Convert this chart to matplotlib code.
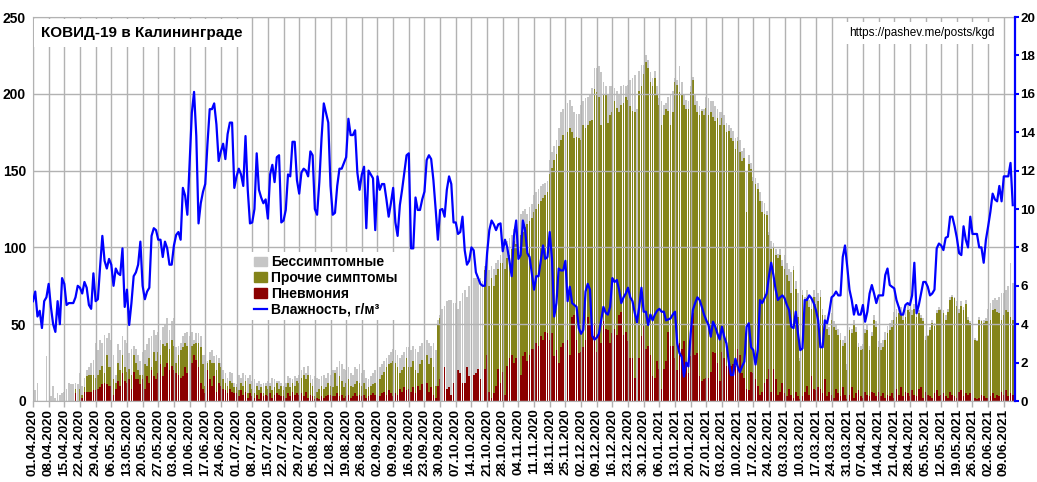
# -*- coding: utf-8 -*-
"""
КОВИД-19 в Калининграде: ежедневные случаи (стек) и абсолютная влажность.
"""
import numpy as np
import pandas as pd
import matplotlib
matplotlib.use("Agg")
import matplotlib.pyplot as plt
from matplotlib.patches import Patch
from matplotlib.lines import Line2D

plt.rcParams["font.family"] = ["Liberation Sans", "DejaVu Sans"]
plt.rcParams["font.weight"] = "bold"

START = "2020-04-01"

# Пневмония, по дням начиная с 01.04.2020 (две недели на строку)
pneumonia = [
    0, 0, 0, 0, 0, 0, 0, 0, 0, 0, 0, 0, 0, 0,
    0, 0, 0, 0, 0, 5, 0, 0, 2, 6, 6, 6, 6, 7,
    7, 8, 9, 11, 12, 11, 10, 10, 4, 8, 13, 10, 18, 13,
    12, 14, 8, 19, 14, 14, 11, 14, 8, 16, 12, 20, 16, 14,
    18, 24, 16, 22, 25, 20, 23, 20, 18, 17, 15, 16, 22, 18,
    0, 25, 30, 27, 22, 12, 8, 5, 20, 14, 10, 16, 6, 12,
    10, 8, 7, 5, 8, 6, 5, 5, 3, 7, 4, 6, 2, 5,
    3, 2, 4, 1, 5, 3, 4, 3, 5, 2, 4, 5, 4, 3,
    3, 2, 5, 3, 6, 4, 5, 4, 5, 3, 6, 2, 4, 3,
    1, 2, 1, 3, 2, 3, 4, 4, 3, 3, 5, 3, 4, 2,
    3, 4, 2, 3, 5, 3, 4, 3, 4, 2, 3, 4, 5, 4,
    4, 3, 5, 6, 4, 7, 5, 3, 5, 4, 8, 6, 9, 7,
    8, 6, 9, 5, 10, 7, 11, 7, 12, 6, 9, 4, 2, 10,
    14, 0, 22, 8, 9, 4, 12, 0, 20, 18, 12, 12, 22, 16,
    28, 17, 18, 21, 14, 0, 21, 30, 6, 2, 5, 10, 21, 12,
    19, 4, 23, 28, 30, 25, 28, 26, 17, 29, 32, 26, 30, 34,
    34, 38, 36, 42, 40, 45, 44, 40, 44, 29, 33, 25, 35, 38,
    25, 40, 30, 55, 56, 40, 31, 32, 35, 40, 55, 50, 44, 51,
    32, 45, 38, 52, 47, 46, 38, 44, 47, 43, 56, 58, 43, 45,
    39, 28, 28, 15, 0, 28, 42, 49, 34, 36, 30, 16, 15, 26,
    21, 8, 21, 26, 45, 36, 36, 28, 20, 38, 34, 39, 23, 18,
    29, 57, 30, 31, 16, 13, 14, 15, 15, 19, 32, 31, 25, 13,
    32, 28, 23, 25, 23, 24, 23, 34, 30, 18, 15, 8, 7, 19,
    18, 14, 10, 4, 6, 12, 14, 21, 6, 21, 14, 4, 6, 12,
    5, 3, 8, 4, 2, 6, 3, 1, 3, 6, 10, 4, 16, 8,
    7, 9, 8, 5, 14, 3, 6, 4, 2, 8, 5, 3, 9, 4,
    1, 4, 9, 2, 5, 7, 3, 2, 6, 4, 3, 6, 5, 3,
    6, 3, 5, 2, 4, 3, 5, 2, 8, 4, 9, 3, 6, 5,
    3, 7, 4, 3, 8, 9, 2, 6, 4, 3, 2, 5, 7, 3,
    4, 5, 3, 2, 6, 4, 3, 2, 6, 7, 3, 5, 4, 5,
    3, 2, 1, 2, 4, 3, 2, 2, 3, 5, 2, 4, 3, 6,
    4, 7, 3, 5, 4,
]

# Прочие симптомы
other = [
    0, 0, 0, 0, 0, 0, 0, 0, 0, 0, 0, 0, 0, 0,
    0, 0, 0, 0, 0, 3, 0, 8, 2, 3, 10, 11, 11, 10,
    8, 9, 11, 12, 6, 19, 12, 12, 10, 4, 12, 10, 12, 9,
    7, 7, 9, 11, 11, 6, 6, 3, 16, 7, 16, 2, 16, 12,
    14, 6, 21, 14, 13, 14, 17, 16, 7, 13, 18, 19, 16, 18,
    0, 11, 7, 11, 16, 23, 16, 5, 5, 13, 15, 9, 14, 13,
    12, 6, 5, 5, 5, 6, 4, 4, 4, 5, 6, 7, 3, 6,
    5, 3, 6, 6, 4, 2, 6, 5, 5, 5, 5, 7, 4, 7,
    4, 7, 7, 6, 6, 6, 8, 8, 10, 14, 8, 15, 8, 7,
    2, 4, 7, 7, 6, 6, 8, 6, 6, 15, 5, 13, 9, 7,
    9, 10, 8, 6, 6, 10, 8, 7, 8, 6, 6, 6, 6, 8,
    9, 11, 12, 13, 18, 17, 20, 23, 20, 18, 10, 14, 13, 21,
    14, 16, 17, 15, 8, 17, 16, 18, 18, 18, 19, 18, 8, 40,
    40, 0, 0, 0, 0, 0, 0, 0, 0, 0, 0, 0, 0, 0,
    0, 0, 0, 0, 0, 0, 64, 58, 69, 78, 70, 72, 65, 78,
    71, 82, 70, 67, 69, 79, 74, 80, 91, 81, 81, 89, 87, 85,
    89, 87, 92, 88, 92, 89, 92, 108, 108, 128, 128, 141, 135, 135,
    147, 135, 148, 120, 115, 132, 140, 138, 145, 138, 125, 132, 139, 152,
    169, 153, 142, 148, 152, 135, 148, 144, 148, 148, 132, 135, 151, 153,
    157, 164, 161, 173, 0, 174, 163, 164, 187, 181, 178, 189, 195, 173,
    172, 172, 165, 164, 144, 144, 152, 180, 186, 163, 165, 154, 167, 172,
    172, 152, 163, 157, 170, 176, 172, 176, 171, 169, 153, 151, 159, 167,
    152, 152, 152, 151, 148, 145, 141, 135, 132, 138, 143, 115, 147, 132,
    125, 127, 128, 126, 117, 110, 107, 87, 93, 79, 81, 89, 89, 76,
    81, 79, 70, 66, 83, 67, 52, 25, 66, 59, 57, 57, 44, 60,
    56, 56, 60, 51, 38, 44, 37, 49, 46, 38, 38, 37, 27, 34,
    19, 42, 35, 48, 40, 28, 30, 32, 38, 42, 30, 36, 48, 45,
    29, 30, 30, 38, 40, 43, 43, 51, 47, 53, 47, 50, 49, 54,
    55, 49, 56, 52, 49, 45, 50, 34, 38, 43, 49, 44, 50, 56,
    55, 52, 50, 56, 60, 64, 64, 60, 51, 55, 56, 58, 49, 46,
    47, 38, 38, 51, 48, 48, 50, 50, 50, 54, 58, 54, 54, 47,
    52, 52, 55, 50, 49,
]

# Бессимптомные
asymptomatic = [
    0, 7, 12, 0, 0, 0, 29, 0, 3, 10, 2, 5, 4, 5,
    6, 8, 12, 11, 11, 4, 11, 10, 6, 6, 4, 5, 8, 10,
    23, 16, 20, 15, 25, 11, 22, 18, 16, 5, 12, 13, 12, 18,
    19, 10, 17, 6, 9, 10, 9, 15, 9, 14, 13, 20, 14, 17,
    13, 10, 11, 14, 16, 12, 12, 18, 10, 6, 5, 7, 6, 9,
    42, 9, 3, 6, 6, 7, 6, 20, 1, 5, 8, 4, 10, 3,
    3, 6, 6, 5, 6, 6, 3, 2, 10, 3, 8, 4, 10, 6,
    5, 9, 2, 6, 2, 7, 2, 5, 2, 8, 5, 1, 5, 2,
    3, 3, 4, 6, 2, 6, 2, 5, 5, 5, 4, 6, 5, 4,
    13, 9, 6, 6, 9, 6, 6, 7, 11, 2, 12, 10, 11, 12,
    8, 8, 8, 8, 11, 8, 12, 8, 8, 7, 5, 6, 7, 8,
    7, 8, 7, 7, 6, 6, 7, 8, 8, 8, 10, 10, 10, 7,
    13, 11, 10, 14, 14, 12, 11, 12, 10, 14, 8, 16, 23, 3,
    2, 60, 40, 57, 57, 62, 52, 64, 40, 47, 58, 60, 46, 59,
    50, 63, 62, 58, 66, 78, 3, 4, 10, 8, 11, 8, 6, 5,
    9, 14, 11, 11, 9, 8, 8, 12, 14, 14, 12, 7, 9, 9,
    11, 11, 10, 10, 9, 8, 7, 9, 10, 9, 9, 12, 18, 17,
    18, 19, 18, 17, 17, 15, 16, 23, 15, 19, 18, 18, 21, 14,
    16, 20, 34, 8, 6, 19, 19, 17, 9, 11, 11, 12, 12, 7,
    10, 17, 21, 24, 190, 13, 14, 6, 4, 5, 6, 5, 5, 6,
    4, 15, 7, 4, 9, 20, 14, 2, 3, 17, 9, 7, 6, 5,
    4, 2, 7, 7, 6, 1, 4, 7, 11, 7, 10, 10, 6, 8,
    4, 6, 6, 4, 7, 7, 7, 3, 8, 7, 7, 26, 6, 4,
    3, 4, 4, 6, 7, 7, 3, 2, 5, 3, 4, 3, 4, 4,
    9, 8, 8, 14, 3, 5, 15, 2, 3, 3, 5, 5, 8, 4,
    5, 5, 4, 4, 4, 5, 5, 4, 4, 4, 4, 4, 4, 4,
    4, 2, 3, 3, 3, 3, 3, 3, 3, 4, 3, 3, 3, 4,
    4, 5, 5, 5, 5, 5, 5, 5, 5, 5, 5, 5, 5, 4,
    2, 3, 3, 3, 2, 2, 2, 2, 1, 2, 2, 2, 2, 2,
    1, 2, 3, 2, 2, 1, 1, 3, 3, 3, 2, 3, 2, 1,
    1, 1, 1, 2, 1, 2, 2, 8, 11, 7, 7, 8, 11, 17,
    14, 13, 17, 35, 24,
]

# Абсолютная влажность, г/м³ (правая ось)
humidity = [
    5.2, 5.7, 4.4, 4.7, 3.8, 5.2, 5.4, 6.1, 4.9, 4.0, 3.6, 5.2, 4.0, 6.4,
    6.1, 5.0, 5.1, 5.1, 5.1, 5.4, 6.0, 5.9, 5.6, 6.2, 5.9, 5.0, 4.8, 6.65,
    5.2, 5.3, 7.0, 8.6, 7.3, 6.9, 7.4, 7.1, 6.0, 6.9, 6.65, 6.56, 7.95, 4.9,
    5.8, 3.96, 5.1, 6.5, 6.7, 7.1, 8.3, 6.0, 5.3, 5.7, 5.9, 8.6, 9.0, 8.9,
    8.4, 8.4, 7.5, 8.3, 7.95, 7.1, 7.1, 8.1, 8.65, 8.8, 8.4, 11.1, 10.7, 9.7,
    12.3, 15.0, 16.1, 13.8, 9.25, 10.3, 10.9, 11.3, 13.4, 15.2, 15.2, 15.5, 14.4, 12.5,
    13.0, 13.4, 12.6, 13.9, 14.5, 14.5, 11.1, 11.7, 12.1, 11.8, 11.2, 13.8, 11.0, 9.25,
    9.3, 10.0, 12.9, 11.0, 10.6, 10.3, 10.5, 9.5, 11.8, 12.3, 11.4, 12.7, 12.8, 9.3,
    9.4, 9.95, 11.8, 11.7, 13.5, 13.5, 11.5, 10.8, 11.9, 12.1, 12.0, 11.7, 13.0, 12.8,
    10.0, 9.7, 11.4, 13.7, 15.5, 15.0, 14.5, 11.2, 9.7, 9.8, 11.2, 12.1, 12.1, 12.4,
    12.7, 14.7, 13.85, 13.85, 14.1, 11.9, 11.0, 11.8, 12.2, 9.0, 12.0, 11.8, 11.6, 8.9,
    11.7, 11.0, 11.3, 11.3, 10.5, 9.6, 10.3, 11.1, 9.3, 8.6, 10.2, 11.0, 11.9, 12.8,
    12.9, 7.95, 7.95, 10.6, 9.95, 9.95, 10.5, 10.9, 12.55, 12.8, 12.6, 11.5, 10.0, 8.4,
    9.95, 10.0, 9.6, 11.0, 11.7, 11.3, 9.3, 9.3, 8.7, 8.8, 9.6, 7.85, 7.1, 7.3,
    8.0, 7.85, 6.7, 6.4, 6.1, 6.0, 6.0, 7.7, 8.9, 9.4, 9.2, 8.9, 9.2, 9.25,
    7.8, 8.4, 8.0, 7.3, 6.5, 8.6, 9.4, 7.4, 7.6, 9.4, 8.9, 7.7, 7.5, 6.65,
    5.8, 6.5, 6.5, 7.3, 8.1, 7.4, 7.5, 8.8, 7.4, 4.4, 5.1, 6.9, 6.8, 6.8,
    7.3, 5.2, 5.95, 5.1, 5.0, 4.9, 3.8, 3.5, 3.7, 5.7, 6.1, 5.8, 3.4, 3.2,
    3.3, 3.5, 4.2, 4.9, 4.6, 4.5, 4.9, 6.4, 6.2, 6.3, 5.8, 5.1, 5.4, 5.6,
    5.9, 5.4, 5.2, 4.6, 4.1, 4.9, 5.9, 4.65, 4.65, 3.96, 4.5, 4.2, 4.5, 4.7,
    4.8, 4.65, 4.65, 4.2, 4.25, 4.3, 4.5, 4.65, 3.0, 2.5, 2.3, 1.27, 2.0, 1.8,
    3.5, 4.74, 5.1, 5.4, 5.26, 4.9, 4.5, 4.2, 3.96, 3.35, 4.13, 3.87, 3.5, 3.2,
    3.87, 3.35, 3.0, 2.1, 1.35, 1.35, 2.2, 1.8, 1.5, 1.8, 2.05, 3.87, 4.05, 2.8,
    2.65, 1.9, 2.65, 5.26, 5.1, 5.35, 5.6, 6.5, 7.2, 6.56, 5.8, 5.26, 5.4, 5.5,
    5.35, 5.0, 4.74, 3.87, 3.8, 4.65, 3.5, 2.65, 2.74, 5.26, 5.26, 5.5, 5.35, 5.1,
    4.74, 4.2, 2.8, 2.8, 4.2, 4.05, 4.65, 5.4, 5.5, 5.7, 5.5, 5.5, 7.5, 8.1,
    7.0, 5.8, 5.26, 4.5, 5.0, 4.5, 4.5, 5.0, 4.13, 4.65, 5.6, 6.04, 5.6, 5.1,
    5.5, 5.5, 5.5, 6.56, 6.9, 6.04, 5.95, 5.87, 5.26, 4.9, 4.5, 4.5, 5.0, 5.1,
    5.0, 5.5, 7.2, 4.57, 5.0, 5.6, 6.2, 6.2, 5.95, 5.5, 5.6, 5.8, 7.95, 8.2,
    8.1, 7.86, 8.5, 8.56, 9.6, 9.6, 9.1, 8.5, 7.7, 7.6, 9.1, 8.4, 8.0, 9.6,
    8.7, 8.7, 8.7, 8.0, 8.0, 7.2, 8.4, 9.1, 9.86, 10.8, 10.5, 10.4, 11.2, 10.4,
    11.7, 11.7, 11.7, 12.4, 10.2,
]

GRAY = "#c6c6c6"
OLIVE = "#84841a"
DARK_RED = "#8b0000"
GRID = "#b2b2b2"

W, H = 1037, 482
n = len(pneumonia)

days = pd.date_range(START, periods=n, freq="D")
x = np.arange(n)
p = np.array(pneumonia)
o = np.array(other)
a = np.array(asymptomatic)

fig = plt.figure(figsize=(W / 100, H / 100), dpi=100)
ax = fig.add_axes([33 / W, 1 - 401 / H, (1015 - 33) / W, (401 - 17) / H])

# стек: пневмония снизу, затем прочие симптомы, сверху бессимптомные
ax.bar(x, p, width=0.78, color=DARK_RED, linewidth=0)
ax.bar(x, o, bottom=p, width=0.78, color=OLIVE, linewidth=0)
ax.bar(x, a, bottom=p + o, width=0.78, color=GRAY, linewidth=0)

ax.set_xlim(0, 439)
ax.set_ylim(0, 250)
ax.set_yticks(range(0, 251, 50))
ticks = list(range(0, n, 7))
ax.set_xticks(ticks)
ax.set_xticklabels([days[i].strftime("%d.%m.%Y") for i in ticks], rotation=90)
ax.set_axisbelow(False)
ax.grid(True, color=GRID, linewidth=1.0)
ax.tick_params(axis="y", length=0, pad=5, labelsize=10)
ax.tick_params(axis="x", length=4, width=1, color=GRID, direction="out",
               pad=1.5, labelsize=9.6)
for side in ("left", "top", "bottom"):
    ax.spines[side].set_color(GRID)
ax.spines["right"].set_visible(False)

ax2 = ax.twinx()
ax2.plot(x, humidity, color="#0000ff", linewidth=1.6, zorder=4)
ax2.set_ylim(0, 20)
ax2.set_yticks(range(0, 21, 2))
ax2.tick_params(axis="y", length=3, width=1.5, color="#0000ff",
                direction="out", pad=1, labelsize=9.6)
for side in ("left", "top", "bottom"):
    ax2.spines[side].set_visible(False)
ax2.spines["right"].set_color("#0000ff")
ax2.spines["right"].set_linewidth(1.6)

ax2.text((41 - 33) / 982, (401 - 33) / 384, "КОВИД-19 в Калининграде",
         transform=ax2.transAxes, fontsize=11, va="center", ha="left",
         bbox=dict(boxstyle="square,pad=0.45", fc="white", ec="none"), zorder=6)
ax2.text((995 - 33) / 982, (401 - 33) / 384, "https://pashev.me/posts/kgd",
         transform=ax2.transAxes, fontsize=8.5, fontweight="normal",
         va="center", ha="right",
         bbox=dict(boxstyle="square,pad=0.4", fc="white", ec="none"), zorder=6)

handles = [
    Patch(color=GRAY, label="Бессимптомные"),
    Patch(color=OLIVE, label="Прочие симптомы"),
    Patch(color=DARK_RED, label="Пневмония"),
    Line2D([], [], color="#0000ff", linewidth=1.6, label="Влажность, г/м³"),
]
leg = ax2.legend(handles=handles, loc="upper left",
                 bbox_to_anchor=((251 - 33) / 982, (401 - 252) / 384),
                 fontsize=10, frameon=True, fancybox=False, framealpha=1,
                 edgecolor="none", facecolor="white", borderpad=0.25,
                 borderaxespad=0, handlelength=0.9, handleheight=0.7,
                 handletextpad=0.3, labelspacing=0.12)
leg.set_zorder(6)

fig.savefig("out.png", dpi=100)
